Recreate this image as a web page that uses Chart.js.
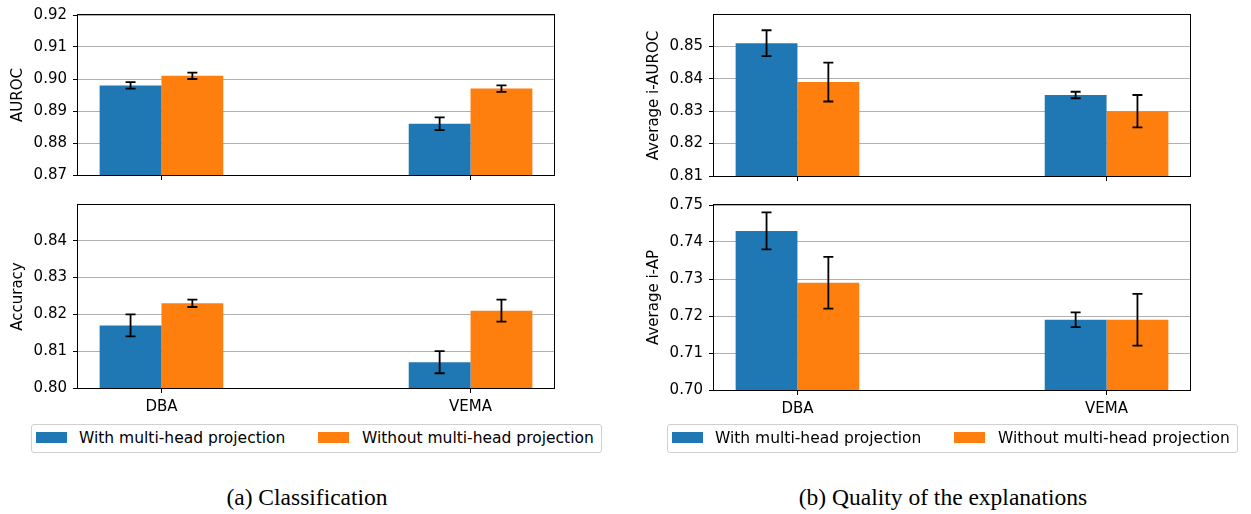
<!DOCTYPE html>
<html lang="en">
<head>
<meta charset="UTF-8">
<title>Multi-head projection results</title>
<script src="https://cdn.jsdelivr.net/npm/chart.js"></script>
<style>
  body { margin: 0; background: #fff; width: 1251px; height: 514px; position: relative; overflow: hidden; font-family: 'DejaVu Sans', sans-serif; }
  canvas { position: absolute; }
  .legend { position: absolute; top: 424px; width: 569px; height: 27px; border: 1px solid #d0d0d0; border-radius: 3px; }
  .patch { position: absolute; top: 7px; width: 31px; height: 11px; }
  .label { position: absolute; top: 0; line-height: 26px; font-size: 15.5px; color: #000; white-space: nowrap; }
  .caption { position: absolute; top: 483px; width: 400px; text-align: center; font-family: 'Liberation Serif', serif; font-size: 23.5px; line-height: 28px; color: #000; }
</style>
</head>
<body>
<canvas id="auroc" width="600" height="190" style="left:0;top:0"></canvas>
<canvas id="accuracy" width="600" height="232" style="left:0;top:190px"></canvas>
<canvas id="iauroc" width="600" height="191" style="left:636px;top:0"></canvas>
<canvas id="iap" width="600" height="233" style="left:636px;top:190px"></canvas>
<div class="legend" id="legendA" style="left:31px"></div>
<div class="legend" id="legendB" style="left:667px"></div>
<div class="caption" style="left:107px">(a) Classification</div>
<div class="caption" style="left:743px">(b) Quality of the explanations</div>
<script>
const groups = ['DBA', 'VEMA'];
const seriesNames = ['With multi-head projection', 'Without multi-head projection'];
const colors = ['#1f77b4', '#ff7f0e'];

// classification
const aurocWith = [0.898, 0.886];
const aurocWithErr = [0.001, 0.002];
const aurocWithout = [0.901, 0.897];
const aurocWithoutErr = [0.001, 0.001];
const aurocTicks = [0.87, 0.88, 0.89, 0.90, 0.91, 0.92];
const aurocMax = 0.92;

const accWith = [0.817, 0.807];
const accWithErr = [0.003, 0.003];
const accWithout = [0.823, 0.821];
const accWithoutErr = [0.001, 0.003];
const accTicks = [0.80, 0.81, 0.82, 0.83, 0.84];
const accMax = 0.8497;

// explanations
const iaurocWith = [0.851, 0.835];
const iaurocWithErr = [0.004, 0.001];
const iaurocWithout = [0.839, 0.830];
const iaurocWithoutErr = [0.006, 0.005];
const iaurocTicks = [0.81, 0.82, 0.83, 0.84, 0.85];
const iaurocMax = 0.8597;

const iapWith = [0.743, 0.719];
const iapWithErr = [0.005, 0.002];
const iapWithout = [0.729, 0.719];
const iapWithoutErr = [0.007, 0.007];
const iapTicks = [0.70, 0.71, 0.72, 0.73, 0.74, 0.75];
const iapMax = 0.75;

const xMin = -0.27, xMax = 1.27;

Chart.defaults.font.family = "'DejaVu Sans', sans-serif";
Chart.defaults.color = '#000';

const frame = {
  id: 'frame',
  afterDatasetsDraw(chart) {
    const a = chart.chartArea, ctx = chart.ctx;
    ctx.save();
    ctx.strokeStyle = '#000';
    ctx.lineWidth = 1;
    ctx.strokeRect(Math.round(a.left) - 0.5, Math.round(a.top) - 0.5, Math.round(a.right - a.left) + 1, Math.round(a.bottom - a.top) + 1);
    ctx.restore();
  }
};

const errorBars = {
  id: 'errorBars',
  afterDraw(chart) {
    const ctx = chart.ctx, y = chart.scales.y;
    ctx.save();
    ctx.strokeStyle = '#000';
    ctx.lineWidth = 1.8;
    chart.data.datasets.forEach((ds, i) => {
      chart.getDatasetMeta(i).data.forEach((bar, j) => {
        const v = ds.data[j].y, e = ds.errors[j];
        const x = bar.x;
        const top = y.getPixelForValue(v + e), bot = y.getPixelForValue(v - e);
        ctx.beginPath();
        ctx.moveTo(x, top); ctx.lineTo(x, bot);
        ctx.moveTo(x - 5, top); ctx.lineTo(x + 5, top);
        ctx.moveTo(x - 5, bot); ctx.lineTo(x + 5, bot);
        ctx.stroke();
      });
    });
    ctx.restore();
  }
};

function makeChart(id, title, withVals, withErr, withoutVals, withoutErr, yTicks, yMax, showLabels, padTop, xHeight) {
  const series = [[withVals, withErr], [withoutVals, withoutErr]];
  return new Chart(document.getElementById(id), {
    type: 'bar',
    data: {
      datasets: series.map((s, k) => ({
        label: seriesNames[k],
        data: s[0].map((v, i) => ({ x: i, y: v })),
        errors: s[1],
        backgroundColor: colors[k],
        borderWidth: 0,
        categoryPercentage: 0.4,
        barPercentage: 1.0
      }))
    },
    options: {
      responsive: false,
      animation: false,
      devicePixelRatio: 1,
      layout: { padding: { left: 0, right: 46, top: padTop, bottom: 0 } },
      plugins: { legend: { display: false }, tooltip: { enabled: false } },
      scales: {
        x: {
          type: 'linear', min: xMin, max: xMax, offset: false,
          afterBuildTicks: s => { s.ticks = groups.map((g, i) => ({ value: i })); },
          afterFit: s => { s.height = xHeight; },
          ticks: { callback: (v, i) => showLabels ? groups[i] : '', padding: 5, font: { size: 15 }, autoSkip: false, maxRotation: 0 },
          grid: { offset: false, drawOnChartArea: false, tickColor: '#000', tickLength: 5 },
          border: { display: false }
        },
        y: {
          min: yTicks[0], max: yMax,
          afterBuildTicks: s => { s.ticks = yTicks.map(v => ({ value: v })); },
          afterFit: s => { s.width = 78; },
          ticks: { callback: v => v.toFixed(2), padding: 6, font: { size: 15 } },
          grid: { color: '#b0b0b0', lineWidth: 1, tickColor: '#000', tickLength: 5 },
          border: { display: false },
          title: { display: true, text: title, font: { size: 15 }, padding: { top: 9, bottom: 0 } }
        }
      }
    },
    plugins: [frame, errorBars]
  });
}

makeChart('auroc', 'AUROC', aurocWith, aurocWithErr, aurocWithout, aurocWithoutErr, aurocTicks, aurocMax, false, 11, 10);
makeChart('accuracy', 'Accuracy', accWith, accWithErr, accWithout, accWithoutErr, accTicks, accMax, true, 10, 34);
makeChart('iauroc', 'Average i-AUROC', iaurocWith, iaurocWithErr, iaurocWithout, iaurocWithoutErr, iaurocTicks, iaurocMax, false, 12, 10);
makeChart('iap', 'Average i-AP', iapWith, iapWithErr, iapWithout, iapWithoutErr, iapTicks, iapMax, true, 10, 33);

['legendA', 'legendB'].forEach(id => {
  const box = document.getElementById(id);
  const patchLeft = [4, 286], textLeft = [47, 330];
  seriesNames.forEach((name, k) => {
    const p = document.createElement('div');
    p.className = 'patch';
    p.style.left = patchLeft[k] + 'px';
    p.style.background = colors[k];
    box.appendChild(p);
    const t = document.createElement('div');
    t.className = 'label';
    t.style.left = textLeft[k] + 'px';
    t.textContent = name;
    box.appendChild(t);
  });
});
</script>
</body>
</html>
